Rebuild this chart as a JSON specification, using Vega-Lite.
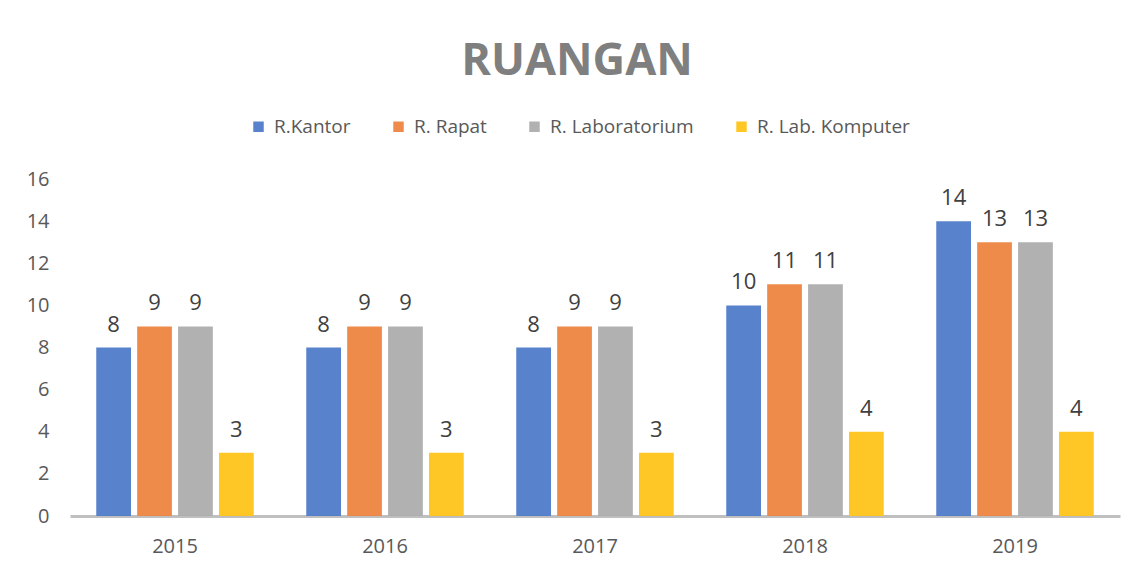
{
  "$schema": "https://vega.github.io/schema/vega-lite/v6.json",
  "width": 1050,
  "height": 337,
  "autosize": "none",
  "padding": {"left": 70, "top": 179, "right": 20, "bottom": 56},
  "background": "white",
  "title": {
    "text": "RUANGAN",
    "font": "Open Sans",
    "fontSize": 45,
    "fontWeight": "bold",
    "color": "#7f7f7f",
    "anchor": "middle",
    "dx": -18,
    "offset": 33
  },
  "config": {
    "view": {"stroke": null},
    "font": "Open Sans"
  },
  "data": {
    "values": [
      {"tahun": "2015", "ruang": "R.Kantor", "jumlah": 8},
      {"tahun": "2015", "ruang": "R. Rapat", "jumlah": 9},
      {"tahun": "2015", "ruang": "R. Laboratorium", "jumlah": 9},
      {"tahun": "2015", "ruang": "R. Lab. Komputer", "jumlah": 3},
      {"tahun": "2016", "ruang": "R.Kantor", "jumlah": 8},
      {"tahun": "2016", "ruang": "R. Rapat", "jumlah": 9},
      {"tahun": "2016", "ruang": "R. Laboratorium", "jumlah": 9},
      {"tahun": "2016", "ruang": "R. Lab. Komputer", "jumlah": 3},
      {"tahun": "2017", "ruang": "R.Kantor", "jumlah": 8},
      {"tahun": "2017", "ruang": "R. Rapat", "jumlah": 9},
      {"tahun": "2017", "ruang": "R. Laboratorium", "jumlah": 9},
      {"tahun": "2017", "ruang": "R. Lab. Komputer", "jumlah": 3},
      {"tahun": "2018", "ruang": "R.Kantor", "jumlah": 10},
      {"tahun": "2018", "ruang": "R. Rapat", "jumlah": 11},
      {"tahun": "2018", "ruang": "R. Laboratorium", "jumlah": 11},
      {"tahun": "2018", "ruang": "R. Lab. Komputer", "jumlah": 4},
      {"tahun": "2019", "ruang": "R.Kantor", "jumlah": 14},
      {"tahun": "2019", "ruang": "R. Rapat", "jumlah": 13},
      {"tahun": "2019", "ruang": "R. Laboratorium", "jumlah": 13},
      {"tahun": "2019", "ruang": "R. Lab. Komputer", "jumlah": 4}
    ]
  },
  "encoding": {
    "x": {
      "field": "tahun",
      "type": "nominal",
      "scale": {"paddingInner": 0.25, "paddingOuter": 0.125},
      "axis": {
        "title": null,
        "labelAngle": 0,
        "labelFontSize": 20,
        "labelColor": "#595959",
        "labelPadding": 20,
        "ticks": false,
        "domainColor": "#bfbfbf",
        "domainWidth": 3
      }
    },
    "xOffset": {
      "field": "ruang",
      "type": "nominal",
      "sort": ["R.Kantor", "R. Rapat", "R. Laboratorium", "R. Lab. Komputer"],
      "scale": {"paddingInner": 0.15, "paddingOuter": 0}
    },
    "y": {
      "field": "jumlah",
      "type": "quantitative",
      "scale": {"domain": [0, 16]},
      "axis": {
        "title": null,
        "values": [0, 2, 4, 6, 8, 10, 12, 14, 16],
        "labelFontSize": 20,
        "labelColor": "#595959",
        "labelPadding": 21,
        "ticks": false,
        "domain": false,
        "grid": false
      }
    }
  },
  "layer": [
    {
      "mark": {"type": "bar", "opacity": 0.95},
      "encoding": {
        "color": {
          "field": "ruang",
          "type": "nominal",
          "sort": ["R.Kantor", "R. Rapat", "R. Laboratorium", "R. Lab. Komputer"],
          "scale": {
            "domain": ["R.Kantor", "R. Rapat", "R. Laboratorium", "R. Lab. Komputer"],
            "range": ["#4f7bc8", "#ee8540", "#adadad", "#ffc41a"]
          },
          "legend": {
            "title": null,
            "orient": "none",
            "direction": "horizontal",
            "legendX": 179,
            "legendY": -62,
            "symbolType": "square",
            "symbolSize": 110,
            "symbolStrokeWidth": 0,
            "labelFontSize": 19,
            "labelColor": "#595959",
            "labelOffset": 6,
            "columnPadding": 38
          }
        }
      }
    },
    {
      "mark": {"type": "text", "baseline": "alphabetic", "dy": -16, "fontSize": 22, "color": "#404040"},
      "encoding": {
        "text": {"field": "jumlah", "type": "quantitative"}
      }
    }
  ]
}
